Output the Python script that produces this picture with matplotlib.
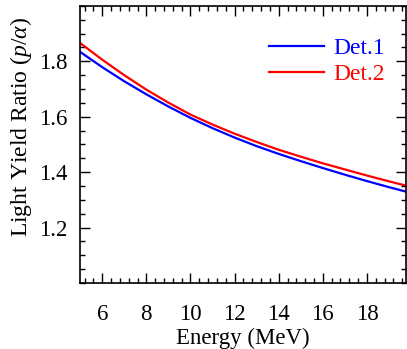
import matplotlib
matplotlib.use("Agg")
import matplotlib.pyplot as plt
from matplotlib.ticker import MultipleLocator
import numpy as np

energy = [5, 6, 7, 8, 9, 10, 11, 12, 13, 14, 15, 16, 17, 18, 19, 20]
det1 = [1.834, 1.779, 1.728, 1.681, 1.637, 1.596, 1.559, 1.525, 1.494, 1.466,
        1.440, 1.415, 1.391, 1.368, 1.346, 1.325]
det2 = [1.866, 1.806, 1.750, 1.698, 1.651, 1.608, 1.572, 1.539, 1.509, 1.481,
        1.456, 1.432, 1.410, 1.388, 1.367, 1.347]
labels = ["Det.1", "Det.2"]

plt.rcParams['font.family'] = ['Liberation Serif', 'DejaVu Serif']
plt.rcParams['mathtext.fontset'] = 'custom'
plt.rcParams['mathtext.it'] = 'Liberation Serif:italic'
plt.rcParams['mathtext.rm'] = 'Liberation Serif'

fig = plt.figure(figsize=(4.07, 3.49), dpi=100)
ax = fig.add_axes([0.197, 0.189, 0.801, 0.794])

ax.plot(energy, det1, color='#0000ff', lw=1.6, label=labels[0])
ax.plot(energy, det2, color='#ff0000', lw=1.6, label=labels[1])

ax.set_xlim(5, 19.78)
ax.set_ylim(1.0, 2.0)
ax.xaxis.set_minor_locator(MultipleLocator(0.4))
ax.yaxis.set_minor_locator(MultipleLocator(0.05))
ax.set_xticks([6, 8, 10, 12, 14, 16, 18])
ax.set_yticks([1.2, 1.4, 1.6, 1.8])

ax.tick_params(which='both', direction='in', top=True, right=True, labelsize=16.5, width=1.0)
ax.tick_params(axis='x', which='major', length=7, pad=15)
ax.tick_params(axis='y', which='major', length=7, pad=9)
ax.tick_params(which='minor', length=3.5)
for s in ax.spines.values():
    s.set_linewidth(1.2)

ax.set_xlabel('Energy (MeV)', fontsize=16.5, labelpad=2)
ax.set_ylabel(r'Light Yield Ratio ($p$/$\alpha$)', fontsize=17)
ax.yaxis.set_label_coords(-0.142, 0.565)

ax.legend(loc='upper left', bbox_to_anchor=(0.58, 0.887), frameon=False, fontsize=17,
          labelcolor='linecolor', handlelength=2.3, handletextpad=0.42,
          labelspacing=0.2, borderpad=0, borderaxespad=0)

fig.savefig('out.png', dpi=100)
